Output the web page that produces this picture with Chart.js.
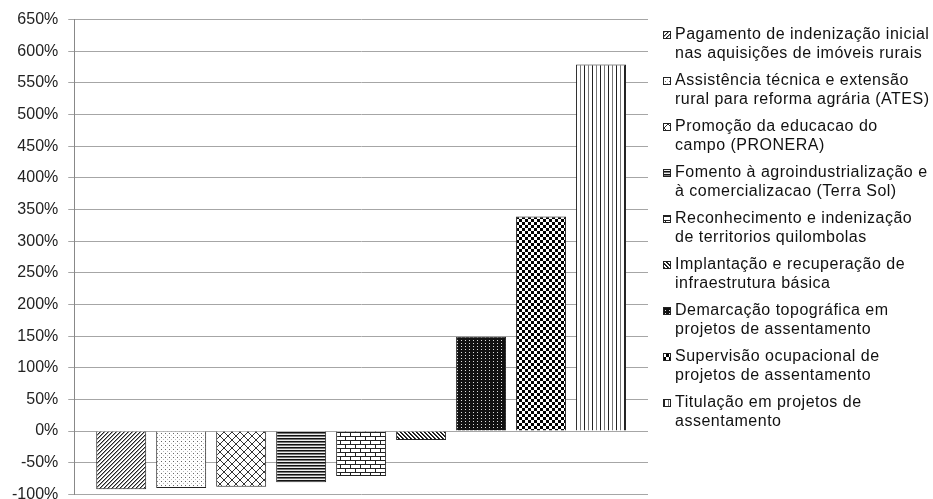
<!DOCTYPE html>
<html>
<head>
<meta charset="utf-8">
<script src="https://cdn.jsdelivr.net/npm/chart.js@4"></script>
<style>
  html, body { margin: 0; padding: 0; overflow: hidden; background: #fff; }
  canvas { display: block; }
</style>
</head>
<body>
<canvas id="chart" width="933" height="514"></canvas>
<script>
// Single category; each programme is its own series (clustered bars).
const categories = [''];

const seriesNames = [
  ['Pagamento de indenização inicial', 'nas aquisições de imóveis rurais'],
  ['Assistência técnica e extensão', 'rural para reforma agrária (ATES)'],
  ['Promoção da educacao do', 'campo (PRONERA)'],
  ['Fomento à agroindustrialização e', 'à comercializacao (Terra Sol)'],
  ['Reconhecimento e indenização', 'de territorios quilombolas'],
  ['Implantação e recuperação de', 'infraestrutura básica'],
  ['Demarcação topográfica em', 'projetos de assentamento'],
  ['Supervisão ocupacional de', 'projetos de assentamento'],
  ['Titulação em projetos de', 'assentamento']
];

// Percentage change per programme
const seriesValues = [-92, -90, -88, -81, -71, -14, 149, 339, 579];

// Value axis ticks
const yMin = -100;
const yMax = 650;
const yStep = 50;

// ---- fill patterns built from small pixel tiles ----
function tilePattern(w, h, bg, paint) {
  const c = document.createElement('canvas');
  c.width = w; c.height = h;
  const g = c.getContext('2d');
  g.fillStyle = bg;
  g.fillRect(0, 0, w, h);
  paint(g, w, h);
  const ctx = document.createElement('canvas').getContext('2d');
  return ctx.createPattern(c, 'repeat');
}
function px(g, x, y, col) { g.fillStyle = col; g.fillRect(x, y, 1, 1); }

const patterns = [
  // upward diagonal
  tilePattern(4, 4, '#fff', (g) => {
    for (let i = 0; i < 4; i++) { px(g, i, 3 - i, '#222'); px(g, (i + 1) % 4, 3 - i, '#999'); }
  }),
  // sparse dots
  tilePattern(4, 4, '#fff', (g) => { px(g, 1, 1, '#666'); px(g, 3, 3, '#bbb'); }),
  // diagonal lattice
  tilePattern(8, 8, '#fff', (g) => {
    for (let i = 0; i < 8; i++) { px(g, i, i, '#333'); px(g, 7 - i, i, '#333'); }
  }),
  // dense horizontal lines
  tilePattern(4, 3, '#eee', (g) => {
    g.fillStyle = '#111'; g.fillRect(0, 0, 4, 1);
    g.fillStyle = '#777'; g.fillRect(0, 1, 4, 1);
  }),
  // horizontal bricks
  tilePattern(10, 8, '#fff', (g) => {
    g.fillStyle = '#222';
    g.fillRect(0, 0, 10, 1);
    g.fillRect(0, 4, 10, 1);
    g.fillRect(0, 1, 1, 3);
    g.fillRect(5, 5, 1, 3);
  }),
  // wide downward diagonal
  tilePattern(4, 4, '#fff', (g) => {
    for (let i = 0; i < 4; i++) { px(g, i, i, '#111'); px(g, (i + 1) % 4, i, '#333'); }
  }),
  // dark with light dots
  tilePattern(4, 3, '#111', (g) => { px(g, 1, 1, '#ddd'); }),
  // small checkerboard
  tilePattern(6, 6, '#fff', (g) => {
    g.fillStyle = '#000';
    g.fillRect(0, 0, 3, 3);
    g.fillRect(3, 3, 3, 3);
  }),
  // vertical lines
  tilePattern(8, 1, '#fff', (g) => { px(g, 0, 0, '#222'); px(g, 4, 0, '#777'); })
];

const datasets = seriesNames.map((lines, i) => ({
  label: lines.join(' '),
  legendLines: lines,
  data: [seriesValues[i]],
  backgroundColor: patterns[i],
  borderColor: '#222',
  borderWidth: 1,
  categoryPercentage: 0.9408,
  barPercentage: 0.8333
}));

const fontFamily = '"Liberation Sans", Arial, sans-serif';

// Two-line legend column drawn to the right of the plot area
const sideLegend = {
  id: 'sideLegend',
  afterDraw(chart) {
    const { ctx, chartArea } = chart;
    const boxX = chartArea.right + 15;
    const textX = boxX + 12;
    const firstY = chartArea.top + 15;
    const itemStep = 46.1;
    const lineStep = 18.5;
    ctx.save();
    ctx.font = '16px ' + fontFamily;
    ctx.letterSpacing = '0.5px';
    ctx.textBaseline = 'middle';
    ctx.textAlign = 'left';
    chart.data.datasets.forEach((ds, i) => {
      const y = Math.round(firstY + i * itemStep);
      ctx.fillStyle = ds.backgroundColor;
      ctx.fillRect(boxX, y - 4, 8, 8);
      ctx.strokeStyle = '#222';
      ctx.lineWidth = 1;
      ctx.strokeRect(boxX + 0.5, y - 3.5, 7, 7);
      ctx.fillStyle = '#111';
      ds.legendLines.forEach((line, j) => {
        ctx.fillText(line, textX, y + j * lineStep);
      });
    });
    ctx.restore();
  }
};

new Chart(document.getElementById('chart'), {
  type: 'bar',
  data: { labels: categories, datasets },
  plugins: [sideLegend],
  options: {
    responsive: false,
    animation: false,
    devicePixelRatio: 1,
    layout: { padding: { top: 15.7, left: 2, right: 285, bottom: 0 } },
    plugins: {
      tooltip: { enabled: false },
      legend: { display: false }
    },
    scales: {
      x: { display: false },
      y: {
        min: yMin,
        max: yMax,
        border: { color: '#888', width: 1 },
        grid: { color: '#a6a6a6', lineWidth: 1, tickLength: 6, drawTicks: true },
        ticks: {
          stepSize: yStep,
          padding: 10,
          color: '#222',
          font: { family: fontFamily, size: 16 },
          callback: (v) => v + '%'
        }
      }
    }
  }
});
</script>
</body>
</html>
